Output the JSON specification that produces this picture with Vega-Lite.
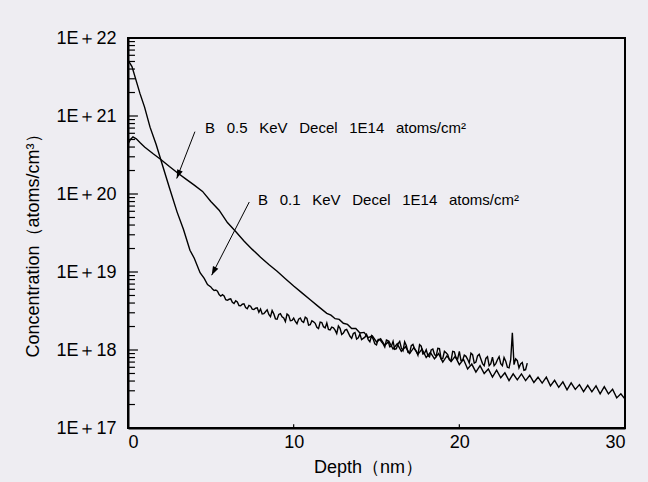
{
  "$schema": "https://vega.github.io/schema/vega-lite/v6.json",
  "width": 497,
  "height": 390,
  "autosize": {"type": "none"},
  "padding": {"left": 128, "top": 38, "right": 23, "bottom": 54},
  "background": "#eeedf2",
  "config": {
    "view": {"stroke": "black", "strokeWidth": 2, "fill": null},
    "font": "Liberation Sans",
    "axis": {"grid": false, "domainColor": "black", "domainWidth": 2, "labelColor": "black", "titleColor": "black", "labelFont": "Liberation Sans", "titleFont": "Liberation Sans", "labelFontSize": 18, "titleFontSize": 18, "titleFontWeight": "normal"}
  },
  "datasets": {
    "ticks": [
      {"x1": 0, "y1": 1e17, "x2": 0.6, "y2": 1e17},
      {"x1": 0, "y1": 2e17, "x2": 0.42, "y2": 2e17},
      {"x1": 0, "y1": 3e17, "x2": 0.42, "y2": 3e17},
      {"x1": 0, "y1": 4e17, "x2": 0.42, "y2": 4e17},
      {"x1": 0, "y1": 5e17, "x2": 0.42, "y2": 5e17},
      {"x1": 0, "y1": 6e17, "x2": 0.42, "y2": 6e17},
      {"x1": 0, "y1": 7e17, "x2": 0.42, "y2": 7e17},
      {"x1": 0, "y1": 8e17, "x2": 0.42, "y2": 8e17},
      {"x1": 0, "y1": 9e17, "x2": 0.42, "y2": 9e17},
      {"x1": 0, "y1": 1e18, "x2": 0.6, "y2": 1e18},
      {"x1": 0, "y1": 2e18, "x2": 0.42, "y2": 2e18},
      {"x1": 0, "y1": 3e18, "x2": 0.42, "y2": 3e18},
      {"x1": 0, "y1": 4e18, "x2": 0.42, "y2": 4e18},
      {"x1": 0, "y1": 5e18, "x2": 0.42, "y2": 5e18},
      {"x1": 0, "y1": 6e18, "x2": 0.42, "y2": 6e18},
      {"x1": 0, "y1": 7e18, "x2": 0.42, "y2": 7e18},
      {"x1": 0, "y1": 8e18, "x2": 0.42, "y2": 8e18},
      {"x1": 0, "y1": 9e18, "x2": 0.42, "y2": 9e18},
      {"x1": 0, "y1": 1e19, "x2": 0.6, "y2": 1e19},
      {"x1": 0, "y1": 2e19, "x2": 0.42, "y2": 2e19},
      {"x1": 0, "y1": 3e19, "x2": 0.42, "y2": 3e19},
      {"x1": 0, "y1": 4e19, "x2": 0.42, "y2": 4e19},
      {"x1": 0, "y1": 5e19, "x2": 0.42, "y2": 5e19},
      {"x1": 0, "y1": 6e19, "x2": 0.42, "y2": 6e19},
      {"x1": 0, "y1": 7e19, "x2": 0.42, "y2": 7e19},
      {"x1": 0, "y1": 8e19, "x2": 0.42, "y2": 8e19},
      {"x1": 0, "y1": 9e19, "x2": 0.42, "y2": 9e19},
      {"x1": 0, "y1": 1e20, "x2": 0.6, "y2": 1e20},
      {"x1": 0, "y1": 2e20, "x2": 0.42, "y2": 2e20},
      {"x1": 0, "y1": 3e20, "x2": 0.42, "y2": 3e20},
      {"x1": 0, "y1": 4e20, "x2": 0.42, "y2": 4e20},
      {"x1": 0, "y1": 5e20, "x2": 0.42, "y2": 5e20},
      {"x1": 0, "y1": 6e20, "x2": 0.42, "y2": 6e20},
      {"x1": 0, "y1": 7e20, "x2": 0.42, "y2": 7e20},
      {"x1": 0, "y1": 8e20, "x2": 0.42, "y2": 8e20},
      {"x1": 0, "y1": 9e20, "x2": 0.42, "y2": 9e20},
      {"x1": 0, "y1": 1e21, "x2": 0.6, "y2": 1e21},
      {"x1": 0, "y1": 2e21, "x2": 0.42, "y2": 2e21},
      {"x1": 0, "y1": 3e21, "x2": 0.42, "y2": 3e21},
      {"x1": 0, "y1": 4e21, "x2": 0.42, "y2": 4e21},
      {"x1": 0, "y1": 5e21, "x2": 0.42, "y2": 5e21},
      {"x1": 0, "y1": 6e21, "x2": 0.42, "y2": 6e21},
      {"x1": 0, "y1": 7e21, "x2": 0.42, "y2": 7e21},
      {"x1": 0, "y1": 8e21, "x2": 0.42, "y2": 8e21},
      {"x1": 0, "y1": 9e21, "x2": 0.42, "y2": 9e21},
      {"x1": 0, "y1": 1e22, "x2": 0.6, "y2": 1e22},
      {"x1": 10, "y1": 1e17, "x2": 10, "y2": 1.12e17},
      {"x1": 20, "y1": 1e17, "x2": 20, "y2": 1.12e17}
    ],
    "curves": [
      {"depth": 0, "conc": 5.2e21, "series": "0.1"},
      {"depth": 0.24, "conc": 4.3e21, "series": "0.1"},
      {"depth": 0.72, "conc": 1.95e21, "series": "0.1"},
      {"depth": 1.0, "conc": 1.3e21, "series": "0.1"},
      {"depth": 1.33, "conc": 7.2e20, "series": "0.1"},
      {"depth": 1.7, "conc": 4.3e20, "series": "0.1"},
      {"depth": 2.11, "conc": 2.24e20, "series": "0.1"},
      {"depth": 2.5, "conc": 1.2e20, "series": "0.1"},
      {"depth": 2.96, "conc": 5.9e19, "series": "0.1"},
      {"depth": 3.35, "conc": 3.5e19, "series": "0.1"},
      {"depth": 3.74, "conc": 1.9e19, "series": "0.1"},
      {"depth": 4.0, "conc": 1.5e19, "series": "0.1"},
      {"depth": 4.35, "conc": 9.8e18, "series": "0.1"},
      {"depth": 4.6, "conc": 8.3e18, "series": "0.1"},
      {"depth": 4.8, "conc": 6.9e18, "series": "0.1"},
      {"depth": 5.0, "conc": 6.44e18, "series": "0.1"},
      {"depth": 5.1, "conc": 6.04e18, "series": "0.1"},
      {"depth": 5.2, "conc": 5.78e18, "series": "0.1"},
      {"depth": 5.3, "conc": 5.87e18, "series": "0.1"},
      {"depth": 5.4, "conc": 5.67e18, "series": "0.1"},
      {"depth": 5.5, "conc": 5.14e18, "series": "0.1"},
      {"depth": 5.6, "conc": 4.9e18, "series": "0.1"},
      {"depth": 5.7, "conc": 5.12e18, "series": "0.1"},
      {"depth": 5.8, "conc": 4.94e18, "series": "0.1"},
      {"depth": 5.9, "conc": 4.42e18, "series": "0.1"},
      {"depth": 6.0, "conc": 4.34e18, "series": "0.1"},
      {"depth": 6.1, "conc": 4.47e18, "series": "0.1"},
      {"depth": 6.2, "conc": 4.52e18, "series": "0.1"},
      {"depth": 6.3, "conc": 4.09e18, "series": "0.1"},
      {"depth": 6.4, "conc": 3.94e18, "series": "0.1"},
      {"depth": 6.5, "conc": 4.27e18, "series": "0.1"},
      {"depth": 6.6, "conc": 4.12e18, "series": "0.1"},
      {"depth": 6.7, "conc": 3.72e18, "series": "0.1"},
      {"depth": 6.8, "conc": 3.7e18, "series": "0.1"},
      {"depth": 6.9, "conc": 3.86e18, "series": "0.1"},
      {"depth": 7.0, "conc": 3.91e18, "series": "0.1"},
      {"depth": 7.1, "conc": 3.51e18, "series": "0.1"},
      {"depth": 7.2, "conc": 3.38e18, "series": "0.1"},
      {"depth": 7.3, "conc": 3.73e18, "series": "0.1"},
      {"depth": 7.4, "conc": 3.64e18, "series": "0.1"},
      {"depth": 7.5, "conc": 3.35e18, "series": "0.1"},
      {"depth": 7.6, "conc": 3.3e18, "series": "0.1"},
      {"depth": 7.7, "conc": 3.43e18, "series": "0.1"},
      {"depth": 7.8, "conc": 3.47e18, "series": "0.1"},
      {"depth": 7.9, "conc": 3.05e18, "series": "0.1"},
      {"depth": 8.0, "conc": 3.35e18, "series": "0.1"},
      {"depth": 8.1, "conc": 2.9e18, "series": "0.1"},
      {"depth": 8.2, "conc": 2.93e18, "series": "0.1"},
      {"depth": 8.3, "conc": 3.1e18, "series": "0.1"},
      {"depth": 8.4, "conc": 3.27e18, "series": "0.1"},
      {"depth": 8.5, "conc": 2.86e18, "series": "0.1"},
      {"depth": 8.6, "conc": 2.68e18, "series": "0.1"},
      {"depth": 8.7, "conc": 3.21e18, "series": "0.1"},
      {"depth": 8.8, "conc": 2.91e18, "series": "0.1"},
      {"depth": 8.9, "conc": 2.51e18, "series": "0.1"},
      {"depth": 9.0, "conc": 2.48e18, "series": "0.1"},
      {"depth": 9.1, "conc": 2.86e18, "series": "0.1"},
      {"depth": 9.2, "conc": 2.92e18, "series": "0.1"},
      {"depth": 9.3, "conc": 2.67e18, "series": "0.1"},
      {"depth": 9.4, "conc": 2.57e18, "series": "0.1"},
      {"depth": 9.5, "conc": 2.31e18, "series": "0.1"},
      {"depth": 9.6, "conc": 2.89e18, "series": "0.1"},
      {"depth": 9.7, "conc": 2.78e18, "series": "0.1"},
      {"depth": 9.8, "conc": 2.37e18, "series": "0.1"},
      {"depth": 9.9, "conc": 2.4e18, "series": "0.1"},
      {"depth": 10.0, "conc": 2.56e18, "series": "0.1"},
      {"depth": 10.1, "conc": 2.32e18, "series": "0.1"},
      {"depth": 10.2, "conc": 2.17e18, "series": "0.1"},
      {"depth": 10.3, "conc": 2.49e18, "series": "0.1"},
      {"depth": 10.4, "conc": 2.57e18, "series": "0.1"},
      {"depth": 10.5, "conc": 2.33e18, "series": "0.1"},
      {"depth": 10.6, "conc": 2.26e18, "series": "0.1"},
      {"depth": 10.7, "conc": 2.63e18, "series": "0.1"},
      {"depth": 10.8, "conc": 2.54e18, "series": "0.1"},
      {"depth": 10.9, "conc": 2.08e18, "series": "0.1"},
      {"depth": 11.0, "conc": 2.11e18, "series": "0.1"},
      {"depth": 11.1, "conc": 2.37e18, "series": "0.1"},
      {"depth": 11.2, "conc": 2.3e18, "series": "0.1"},
      {"depth": 11.3, "conc": 2.2e18, "series": "0.1"},
      {"depth": 11.4, "conc": 1.95e18, "series": "0.1"},
      {"depth": 11.5, "conc": 1.88e18, "series": "0.1"},
      {"depth": 11.6, "conc": 2.28e18, "series": "0.1"},
      {"depth": 11.7, "conc": 2.25e18, "series": "0.1"},
      {"depth": 11.8, "conc": 1.99e18, "series": "0.1"},
      {"depth": 11.9, "conc": 1.92e18, "series": "0.1"},
      {"depth": 12.0, "conc": 2.22e18, "series": "0.1"},
      {"depth": 12.1, "conc": 1.83e18, "series": "0.1"},
      {"depth": 12.2, "conc": 1.81e18, "series": "0.1"},
      {"depth": 12.3, "conc": 1.96e18, "series": "0.1"},
      {"depth": 12.4, "conc": 1.93e18, "series": "0.1"},
      {"depth": 12.5, "conc": 1.8e18, "series": "0.1"},
      {"depth": 12.6, "conc": 1.62e18, "series": "0.1"},
      {"depth": 12.7, "conc": 2.03e18, "series": "0.1"},
      {"depth": 12.8, "conc": 1.9e18, "series": "0.1"},
      {"depth": 12.9, "conc": 1.58e18, "series": "0.1"},
      {"depth": 13.0, "conc": 1.65e18, "series": "0.1"},
      {"depth": 13.1, "conc": 1.8e18, "series": "0.1"},
      {"depth": 13.2, "conc": 1.84e18, "series": "0.1"},
      {"depth": 13.3, "conc": 1.66e18, "series": "0.1"},
      {"depth": 13.4, "conc": 1.5e18, "series": "0.1"},
      {"depth": 13.5, "conc": 1.41e18, "series": "0.1"},
      {"depth": 13.6, "conc": 1.63e18, "series": "0.1"},
      {"depth": 13.7, "conc": 1.67e18, "series": "0.1"},
      {"depth": 13.8, "conc": 1.38e18, "series": "0.1"},
      {"depth": 13.9, "conc": 1.43e18, "series": "0.1"},
      {"depth": 14.0, "conc": 1.6e18, "series": "0.1"},
      {"depth": 14.1, "conc": 1.36e18, "series": "0.1"},
      {"depth": 14.2, "conc": 1.41e18, "series": "0.1"},
      {"depth": 14.3, "conc": 1.46e18, "series": "0.1"},
      {"depth": 14.4, "conc": 1.58e18, "series": "0.1"},
      {"depth": 14.5, "conc": 1.36e18, "series": "0.1"},
      {"depth": 14.6, "conc": 1.28e18, "series": "0.1"},
      {"depth": 14.7, "conc": 1.52e18, "series": "0.1"},
      {"depth": 14.8, "conc": 1.38e18, "series": "0.1"},
      {"depth": 14.9, "conc": 1.2e18, "series": "0.1"},
      {"depth": 15.0, "conc": 1.16e18, "series": "0.1"},
      {"depth": 15.1, "conc": 1.37e18, "series": "0.1"},
      {"depth": 15.2, "conc": 1.37e18, "series": "0.1"},
      {"depth": 15.3, "conc": 1.27e18, "series": "0.1"},
      {"depth": 15.4, "conc": 1.2e18, "series": "0.1"},
      {"depth": 15.5, "conc": 1.09e18, "series": "0.1"},
      {"depth": 15.6, "conc": 1.34e18, "series": "0.1"},
      {"depth": 15.7, "conc": 1.31e18, "series": "0.1"},
      {"depth": 15.8, "conc": 1.1e18, "series": "0.1"},
      {"depth": 15.9, "conc": 1.12e18, "series": "0.1"},
      {"depth": 16.0, "conc": 1.29e18, "series": "0.1"},
      {"depth": 16.1, "conc": 1.02e18, "series": "0.1"},
      {"depth": 16.2, "conc": 1.04e18, "series": "0.1"},
      {"depth": 16.3, "conc": 1.2e18, "series": "0.1"},
      {"depth": 16.4, "conc": 1.29e18, "series": "0.1"},
      {"depth": 16.5, "conc": 1.06e18, "series": "0.1"},
      {"depth": 16.6, "conc": 9.8e17, "series": "0.1"},
      {"depth": 16.7, "conc": 1.27e18, "series": "0.1"},
      {"depth": 16.8, "conc": 1.14e18, "series": "0.1"},
      {"depth": 16.9, "conc": 9.3e17, "series": "0.1"},
      {"depth": 17.0, "conc": 9.2e17, "series": "0.1"},
      {"depth": 17.1, "conc": 1.14e18, "series": "0.1"},
      {"depth": 17.2, "conc": 1.18e18, "series": "0.1"},
      {"depth": 17.3, "conc": 1.04e18, "series": "0.1"},
      {"depth": 17.4, "conc": 9.7e17, "series": "0.1"},
      {"depth": 17.5, "conc": 8.6e17, "series": "0.1"},
      {"depth": 17.6, "conc": 1.17e18, "series": "0.1"},
      {"depth": 17.7, "conc": 1.12e18, "series": "0.1"},
      {"depth": 17.8, "conc": 8.9e17, "series": "0.1"},
      {"depth": 17.9, "conc": 9.1e17, "series": "0.1"},
      {"depth": 18.0, "conc": 1.01e18, "series": "0.1"},
      {"depth": 18.1, "conc": 8.5e17, "series": "0.1"},
      {"depth": 18.2, "conc": 8.2e17, "series": "0.1"},
      {"depth": 18.3, "conc": 1.0e18, "series": "0.1"},
      {"depth": 18.4, "conc": 1.03e18, "series": "0.1"},
      {"depth": 18.5, "conc": 8.8e17, "series": "0.1"},
      {"depth": 18.6, "conc": 8.3e17, "series": "0.1"},
      {"depth": 18.7, "conc": 1.05e18, "series": "0.1"},
      {"depth": 18.8, "conc": 1.04e18, "series": "0.1"},
      {"depth": 18.9, "conc": 7.7e17, "series": "0.1"},
      {"depth": 19.0, "conc": 7.8e17, "series": "0.1"},
      {"depth": 19.1, "conc": 9.6e17, "series": "0.1"},
      {"depth": 19.2, "conc": 9.2e17, "series": "0.1"},
      {"depth": 19.3, "conc": 8.75e17, "series": "0.1"},
      {"depth": 19.4, "conc": 7.5e17, "series": "0.1"},
      {"depth": 19.5, "conc": 7.3e17, "series": "0.1"},
      {"depth": 19.6, "conc": 9.6e17, "series": "0.1"},
      {"depth": 19.7, "conc": 9.5e17, "series": "0.1"},
      {"depth": 19.8, "conc": 7.9e17, "series": "0.1"},
      {"depth": 19.9, "conc": 7.7e17, "series": "0.1"},
      {"depth": 20.0, "conc": 9.6e17, "series": "0.1"},
      {"depth": 20.1, "conc": 7.3e17, "series": "0.1"},
      {"depth": 20.2, "conc": 7.4e17, "series": "0.1"},
      {"depth": 20.3, "conc": 8.6e17, "series": "0.1"},
      {"depth": 20.4, "conc": 8.3e17, "series": "0.1"},
      {"depth": 20.5, "conc": 7.6e17, "series": "0.1"},
      {"depth": 20.6, "conc": 6.8e17, "series": "0.1"},
      {"depth": 20.7, "conc": 9.1e17, "series": "0.1"},
      {"depth": 20.8, "conc": 8.7e17, "series": "0.1"},
      {"depth": 20.9, "conc": 6.8e17, "series": "0.1"},
      {"depth": 21.0, "conc": 7.0e17, "series": "0.1"},
      {"depth": 21.1, "conc": 8.4e17, "series": "0.1"},
      {"depth": 21.2, "conc": 8.8e17, "series": "0.1"},
      {"depth": 21.3, "conc": 7.65e17, "series": "0.1"},
      {"depth": 21.4, "conc": 6.7e17, "series": "0.1"},
      {"depth": 21.5, "conc": 6.3e17, "series": "0.1"},
      {"depth": 21.6, "conc": 7.8e17, "series": "0.1"},
      {"depth": 21.7, "conc": 8.2e17, "series": "0.1"},
      {"depth": 21.8, "conc": 6.3e17, "series": "0.1"},
      {"depth": 21.9, "conc": 6.7e17, "series": "0.1"},
      {"depth": 22.0, "conc": 8.1e17, "series": "0.1"},
      {"depth": 22.1, "conc": 6.3e17, "series": "0.1"},
      {"depth": 22.2, "conc": 6.7e17, "series": "0.1"},
      {"depth": 22.3, "conc": 7.5e17, "series": "0.1"},
      {"depth": 22.4, "conc": 8.2e17, "series": "0.1"},
      {"depth": 22.5, "conc": 6.7e17, "series": "0.1"},
      {"depth": 22.6, "conc": 6.3e17, "series": "0.1"},
      {"depth": 22.7, "conc": 8.0e17, "series": "0.1"},
      {"depth": 22.8, "conc": 7.2e17, "series": "0.1"},
      {"depth": 22.9, "conc": 6.0e17, "series": "0.1"},
      {"depth": 23.0, "conc": 5.9e17, "series": "0.1"},
      {"depth": 23.1, "conc": 7.5e17, "series": "0.1"},
      {"depth": 23.2, "conc": 1.66e18, "series": "0.1"},
      {"depth": 23.3, "conc": 6.5e17, "series": "0.1"},
      {"depth": 23.4, "conc": 7.7e17, "series": "0.1"},
      {"depth": 23.5, "conc": 7.3e17, "series": "0.1"},
      {"depth": 23.6, "conc": 5.9e17, "series": "0.1"},
      {"depth": 23.7, "conc": 6.65e17, "series": "0.1"},
      {"depth": 23.8, "conc": 6.9e17, "series": "0.1"},
      {"depth": 23.9, "conc": 5.5e17, "series": "0.1"},
      {"depth": 24.0, "conc": 5.6e17, "series": "0.1"},
      {"depth": 24.1, "conc": 6.8e17, "series": "0.1"},

      {"depth": 0, "conc": 4.4e20, "series": "0.5"},
      {"depth": 0.15, "conc": 5.0e20, "series": "0.5"},
      {"depth": 0.3, "conc": 5.4e20, "series": "0.5"},
      {"depth": 0.5, "conc": 5.1e20, "series": "0.5"},
      {"depth": 0.75, "conc": 4.5e20, "series": "0.5"},
      {"depth": 1.0, "conc": 4.0e20, "series": "0.5"},
      {"depth": 1.5, "conc": 3.3e20, "series": "0.5"},
      {"depth": 2.0, "conc": 2.75e20, "series": "0.5"},
      {"depth": 2.5, "conc": 2.25e20, "series": "0.5"},
      {"depth": 3.0, "conc": 1.86e20, "series": "0.5"},
      {"depth": 3.5, "conc": 1.55e20, "series": "0.5"},
      {"depth": 4.0, "conc": 1.3e20, "series": "0.5"},
      {"depth": 4.5, "conc": 1.08e20, "series": "0.5"},
      {"depth": 5.0, "conc": 8.0e19, "series": "0.5"},
      {"depth": 5.5, "conc": 6.2e19, "series": "0.5"},
      {"depth": 6.0, "conc": 4.3e19, "series": "0.5"},
      {"depth": 6.5, "conc": 3.3e19, "series": "0.5"},
      {"depth": 7.0, "conc": 2.5e19, "series": "0.5"},
      {"depth": 7.5, "conc": 1.95e19, "series": "0.5"},
      {"depth": 8.0, "conc": 1.55e19, "series": "0.5"},
      {"depth": 8.5, "conc": 1.25e19, "series": "0.5"},
      {"depth": 9.0, "conc": 1.02e19, "series": "0.5"},
      {"depth": 9.5, "conc": 8.2e18, "series": "0.5"},
      {"depth": 10.0, "conc": 6.6e18, "series": "0.5"},
      {"depth": 10.5, "conc": 5.4e18, "series": "0.5"},
      {"depth": 11.0, "conc": 4.4e18, "series": "0.5"},
      {"depth": 11.5, "conc": 3.6e18, "series": "0.5"},
      {"depth": 12.0, "conc": 2.95e18, "series": "0.5"},
      {"depth": 12.25, "conc": 2.8e18, "series": "0.5"},
      {"depth": 12.5, "conc": 2.52e18, "series": "0.5"},
      {"depth": 12.75, "conc": 2.47e18, "series": "0.5"},
      {"depth": 13.0, "conc": 2.2e18, "series": "0.5"},
      {"depth": 13.25, "conc": 2.13e18, "series": "0.5"},
      {"depth": 13.5, "conc": 1.89e18, "series": "0.5"},
      {"depth": 13.75, "conc": 1.89e18, "series": "0.5"},
      {"depth": 14.0, "conc": 1.65e18, "series": "0.5"},
      {"depth": 14.25, "conc": 1.68e18, "series": "0.5"},
      {"depth": 14.5, "conc": 1.44e18, "series": "0.5"},
      {"depth": 14.75, "conc": 1.52e18, "series": "0.5"},
      {"depth": 15.0, "conc": 1.27e18, "series": "0.5"},
      {"depth": 15.25, "conc": 1.39e18, "series": "0.5"},
      {"depth": 15.5, "conc": 1.15e18, "series": "0.5"},
      {"depth": 15.75, "conc": 1.29e18, "series": "0.5"},
      {"depth": 16.0, "conc": 1.03e18, "series": "0.5"},
      {"depth": 16.25, "conc": 1.2e18, "series": "0.5"},
      {"depth": 16.5, "conc": 9.6e17, "series": "0.5"},
      {"depth": 16.75, "conc": 1.1e18, "series": "0.5"},
      {"depth": 17.0, "conc": 9.0e17, "series": "0.5"},
      {"depth": 17.25, "conc": 1.07e18, "series": "0.5"},
      {"depth": 17.5, "conc": 8.8e17, "series": "0.5"},
      {"depth": 17.75, "conc": 1.03e18, "series": "0.5"},
      {"depth": 18.0, "conc": 8.0e17, "series": "0.5"},
      {"depth": 18.25, "conc": 9.3e17, "series": "0.5"},
      {"depth": 18.5, "conc": 7.7e17, "series": "0.5"},
      {"depth": 18.75, "conc": 9.0e17, "series": "0.5"},
      {"depth": 19.0, "conc": 7.0e17, "series": "0.5"},
      {"depth": 19.25, "conc": 8.4e17, "series": "0.5"},
      {"depth": 19.5, "conc": 7.1e17, "series": "0.5"},
      {"depth": 19.75, "conc": 8.3e17, "series": "0.5"},
      {"depth": 20.0, "conc": 6.5e17, "series": "0.5"},
      {"depth": 20.25, "conc": 7.6e17, "series": "0.5"},
      {"depth": 20.5, "conc": 5.7e17, "series": "0.5"},
      {"depth": 20.75, "conc": 6.6e17, "series": "0.5"},
      {"depth": 21.0, "conc": 5.2e17, "series": "0.5"},
      {"depth": 21.25, "conc": 6.3e17, "series": "0.5"},
      {"depth": 21.5, "conc": 5.0e17, "series": "0.5"},
      {"depth": 21.75, "conc": 5.7e17, "series": "0.5"},
      {"depth": 22.0, "conc": 4.5e17, "series": "0.5"},
      {"depth": 22.25, "conc": 5.5e17, "series": "0.5"},
      {"depth": 22.5, "conc": 4.4e17, "series": "0.5"},
      {"depth": 22.75, "conc": 5.1e17, "series": "0.5"},
      {"depth": 23.0, "conc": 4.05e17, "series": "0.5"},
      {"depth": 23.25, "conc": 4.95e17, "series": "0.5"},
      {"depth": 23.5, "conc": 4.14e17, "series": "0.5"},
      {"depth": 23.75, "conc": 4.93e17, "series": "0.5"},
      {"depth": 24.0, "conc": 4.05e17, "series": "0.5"},
      {"depth": 24.25, "conc": 4.73e17, "series": "0.5"},
      {"depth": 24.5, "conc": 3.83e17, "series": "0.5"},
      {"depth": 24.75, "conc": 4.48e17, "series": "0.5"},
      {"depth": 25.0, "conc": 3.77e17, "series": "0.5"},
      {"depth": 25.25, "conc": 4.48e17, "series": "0.5"},
      {"depth": 25.5, "conc": 3.47e17, "series": "0.5"},
      {"depth": 25.75, "conc": 4.09e17, "series": "0.5"},
      {"depth": 26.0, "conc": 3.32e17, "series": "0.5"},
      {"depth": 26.25, "conc": 3.9e17, "series": "0.5"},
      {"depth": 26.5, "conc": 3.08e17, "series": "0.5"},
      {"depth": 26.75, "conc": 3.8e17, "series": "0.5"},
      {"depth": 27.0, "conc": 3.13e17, "series": "0.5"},
      {"depth": 27.25, "conc": 3.6e17, "series": "0.5"},
      {"depth": 27.5, "conc": 2.93e17, "series": "0.5"},
      {"depth": 27.75, "conc": 3.52e17, "series": "0.5"},
      {"depth": 28.0, "conc": 2.91e17, "series": "0.5"},
      {"depth": 28.25, "conc": 3.47e17, "series": "0.5"},
      {"depth": 28.5, "conc": 2.75e17, "series": "0.5"},
      {"depth": 28.75, "conc": 3.39e17, "series": "0.5"},
      {"depth": 29.0, "conc": 2.74e17, "series": "0.5"},
      {"depth": 29.25, "conc": 3.14e17, "series": "0.5"},
      {"depth": 29.5, "conc": 2.43e17, "series": "0.5"},
      {"depth": 29.75, "conc": 2.75e17, "series": "0.5"},
      {"depth": 30.0, "conc": 2.35e17, "series": "0.5"}
    ],
    "arrows": [
      {"x1": 4.04, "y1": 6.3e20, "x2": 2.94, "y2": 1.58e20, "angle": 201.5},
      {"x1": 7.32, "y1": 7.9e19, "x2": 5.05, "y2": 9.1e18, "angle": 207}
    ],
    "labels": [
      {"depth": 4.65, "conc": 7.0e20, "text": "B\u2002 0.5\u2002 KeV\u2002 Decel\u2002 1E14\u2002 atoms/cm²"},
      {"depth": 7.85, "conc": 8.4e19, "text": "B\u2002 0.1\u2002 KeV\u2002 Decel\u2002 1E14\u2002 atoms/cm²"}
    ]
  },
  "layer": [
    {
      "data": {"name": "curves"},
      "mark": {"type": "line", "color": "black", "strokeWidth": 1.4, "clip": true},
      "encoding": {
        "x": {
          "field": "depth", "type": "quantitative",
          "scale": {"domain": [0, 30], "nice": false},
          "axis": {"values": [0, 10, 20, 30], "ticks": false, "labelPadding": 5, "title": "Depth（nm）", "titleX": 240, "titleY": 39, "titleBaseline": "middle"}
        },
        "y": {
          "field": "conc", "type": "quantitative",
          "scale": {"type": "log", "domain": [1e17, 1e22], "nice": false},
          "axis": {
            "values": [1e17, 1e18, 1e19, 1e20, 1e21, 1e22],
            "labelExpr": "'1E＋' + round(log(datum.value)/LN10)",
            "labelOverlap": false,
            "labelBound": false,
            "ticks": false,
            "labelPadding": 12,
            "title": "Concentration（atoms/cm³）",
            "titleX": -95, "titleY": 203, "titleBaseline": "middle", "titleAngle": -90
          }
        },
        "detail": {"field": "series"}
      }
    },
    {
      "data": {"name": "ticks"},
      "mark": {"type": "rule", "color": "black", "strokeWidth": 1.2},
      "encoding": {
        "x": {"field": "x1", "type": "quantitative"},
        "y": {"field": "y1", "type": "quantitative"},
        "x2": {"field": "x2"},
        "y2": {"field": "y2"}
      }
    },
    {
      "data": {"name": "arrows"},
      "mark": {"type": "rule", "color": "black", "strokeWidth": 1},
      "encoding": {
        "x": {"field": "x1", "type": "quantitative"},
        "y": {"field": "y1", "type": "quantitative"},
        "x2": {"field": "x2"},
        "y2": {"field": "y2"}
      }
    },
    {
      "data": {"name": "arrows"},
      "mark": {"type": "point", "shape": "M0,0L-0.75,2.2L0.75,2.2Z", "filled": true, "color": "black", "size": 64, "opacity": 1},
      "encoding": {
        "x": {"field": "x2", "type": "quantitative"},
        "y": {"field": "y2", "type": "quantitative"},
        "angle": {"field": "angle", "type": "quantitative", "scale": null}
      }
    },
    {
      "data": {"name": "labels"},
      "mark": {"type": "text", "align": "left", "baseline": "middle", "font": "Liberation Sans", "fontSize": 15, "color": "black"},
      "encoding": {
        "x": {"field": "depth", "type": "quantitative"},
        "y": {"field": "conc", "type": "quantitative"},
        "text": {"field": "text"}
      }
    }
  ]
}
